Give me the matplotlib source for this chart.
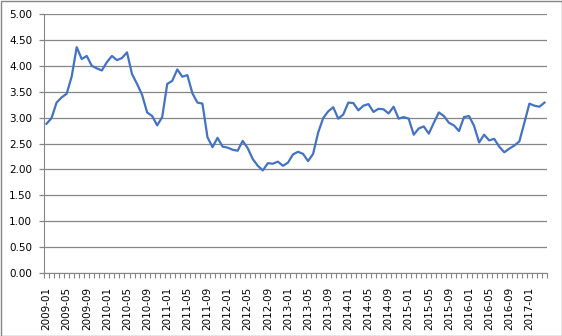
import matplotlib.pyplot as plt
from matplotlib.patches import Rectangle
from matplotlib.ticker import FixedLocator, FuncFormatter

# Monthly series, 2009-01 .. 2017-04
months = [f"{2009 + k // 12}-{k % 12 + 1:02d}" for k in range(100)]
values = [
    2.88, 2.99, 3.29, 3.39, 3.46, 3.79, 4.36, 4.13, 4.19, 4.00,
    3.95, 3.91, 4.07, 4.19, 4.11, 4.15, 4.26, 3.84, 3.65, 3.44,
    3.10, 3.03, 2.85, 3.01, 3.65, 3.71, 3.93, 3.79, 3.82, 3.47,
    3.29, 3.27, 2.62, 2.43, 2.61, 2.44, 2.42, 2.38, 2.36, 2.55,
    2.41, 2.20, 2.07, 1.98, 2.12, 2.11, 2.15, 2.07, 2.13, 2.29,
    2.34, 2.30, 2.16, 2.30, 2.71, 2.99, 3.12, 3.20, 2.98, 3.06,
    3.29, 3.28, 3.14, 3.23, 3.26, 3.11, 3.17, 3.16, 3.08, 3.21,
    2.98, 3.01, 2.98, 2.67, 2.79, 2.83, 2.69, 2.90, 3.10, 3.03,
    2.90, 2.85, 2.74, 3.01, 3.03, 2.84, 2.52, 2.67, 2.56, 2.59,
    2.44, 2.33, 2.40, 2.46, 2.54, 2.90, 3.27, 3.23, 3.21, 3.29,
]
y_ticks = [0.5 * k for k in range(11)]

plt.rcParams['font.family'] = 'DejaVu Sans'
fig = plt.figure(figsize=(5.62, 3.36), dpi=100)
ax = fig.add_axes([44 / 562, 63 / 336, 503 / 562, 259 / 336])

x = list(range(len(values)))
ax.plot(x, values, color='#4472C4', linewidth=1.6)

ax.set_xlim(-0.5, len(values) - 0.5)
ax.set_ylim(0, 5)
ax.set_yticks(y_ticks)
ax.yaxis.set_major_formatter(FuncFormatter(lambda v, p: f"{v:.2f}"))
ax.grid(axis='y', color='#868686', linewidth=0.9)
ax.set_axisbelow(True)

label_pos = x[::4]
ax.xaxis.set_major_locator(FixedLocator(label_pos))
ax.set_xticklabels([months[i] for i in label_pos], rotation=90)
ax.xaxis.set_minor_locator(FixedLocator([i - 0.5 for i in range(len(values) + 1)]))
ax.tick_params(axis='x', which='major', length=0, pad=10, labelsize=7.5)
ax.tick_params(axis='x', which='minor', length=3.5, width=0.8, color='#868686')
ax.tick_params(axis='y', length=3.5, width=0.9, color='#868686', pad=5, labelsize=7.5)

for s in ['top', 'right']:
    ax.spines[s].set_visible(False)
ax.spines['left'].set_color('#868686')
ax.spines['bottom'].set_color('#868686')

fig.patches.append(Rectangle((0.5 / 562, 0.5 / 336), 561 / 562, 335 / 336,
                             transform=fig.transFigure, fill=False,
                             edgecolor='#868686', linewidth=1))

fig.savefig('out.png', dpi=100)
